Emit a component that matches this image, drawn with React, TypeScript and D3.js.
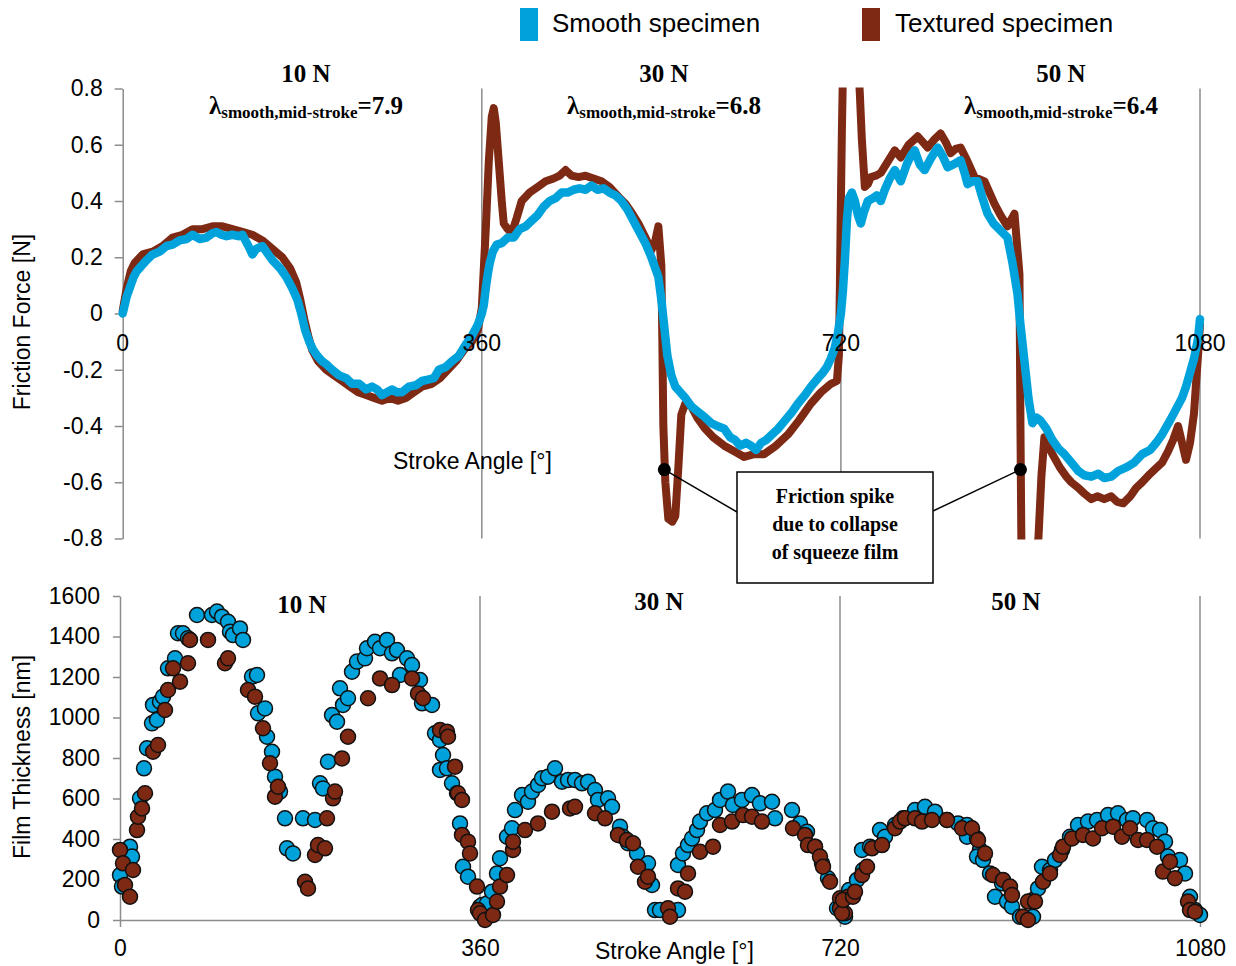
import * as d3 from 'd3';
import React, {useEffect, useRef} from 'react';

// friction force [N] vs stroke angle [deg]
const smoothForce: [number, number][] = [
    [0,0.0],[4,0.06],[7,0.09],[11,0.13],[14,0.15],[19,0.17],[24,0.19],[30,0.21],[37,0.22],[44,0.24],[50,0.245],[57,0.26],[64,0.265],
    [70,0.28],[77,0.265],[84,0.27],[90,0.285],[94,0.29],[99,0.28],[104,0.275],[110,0.28],[116,0.275],[120,0.28],[126,0.24],[130,0.21],
    [134,0.23],[140,0.24],[146,0.21],[150,0.19],[158,0.16],[164,0.13],[170,0.09],[175,0.05],[179,0.0],[183,-0.06],[187,-0.10],
    [191,-0.13],[195,-0.15],[200,-0.17],[204,-0.18],[210,-0.20],[217,-0.22],[224,-0.23],[230,-0.25],[237,-0.25],[244,-0.27],
    [250,-0.26],[255,-0.27],[260,-0.29],[265,-0.28],[270,-0.27],[275,-0.28],[280,-0.28],[287,-0.26],[294,-0.255],[300,-0.24],
    [306,-0.235],[312,-0.23],[317,-0.20],[324,-0.19],[330,-0.17],[337,-0.15],[344,-0.11],[350,-0.08],[356,-0.04],[360,0.0],
    [362,0.03],[364,0.09],[366,0.14],[368,0.18],[371,0.22],[375,0.245],[380,0.25],[386,0.27],[392,0.27],[398,0.30],[404,0.31],
    [410,0.33],[416,0.35],[422,0.38],[428,0.40],[434,0.41],[440,0.43],[446,0.43],[452,0.44],[458,0.445],[464,0.44],[470,0.455],
    [476,0.44],[482,0.445],[488,0.43],[494,0.42],[500,0.40],[506,0.37],[512,0.33],[518,0.29],[524,0.25],[530,0.20],[534,0.16],
    [537,0.13],[540,0.05],[543,-0.05],[546,-0.15],[550,-0.22],[554,-0.26],[559,-0.28],[564,-0.30],[570,-0.33],[577,-0.35],
    [584,-0.37],[590,-0.39],[596,-0.40],[603,-0.41],[609,-0.44],[614,-0.45],[619,-0.47],[625,-0.46],[630,-0.47],[635,-0.485],
    [640,-0.46],[645,-0.45],[651,-0.43],[657,-0.41],[664,-0.38],[671,-0.35],[677,-0.32],[684,-0.29],[690,-0.26],[697,-0.23],
    [702,-0.21],[706,-0.19],[710,-0.16],[714,-0.12],[717,-0.07],[720,0.0],
    [722,0.08],[724,0.19],[726,0.33],[728,0.41],[731,0.43],[734,0.40],[737,0.35],[740,0.32],[743,0.36],[747,0.40],[752,0.41],
    [756,0.42],[760,0.40],[764,0.44],[769,0.48],[774,0.51],[780,0.47],[786,0.53],[790,0.56],[794,0.58],[799,0.53],[804,0.51],
    [810,0.55],[817,0.59],[822,0.56],[827,0.52],[833,0.53],[840,0.545],[844,0.50],[847,0.46],[852,0.47],[857,0.47],[862,0.41],
    [867,0.355],[873,0.32],[880,0.295],[887,0.27],[892,0.18],[897,0.07],[900,-0.04],[904,-0.17],[908,-0.30],[912,-0.39],
    [916,-0.37],[920,-0.38],[926,-0.41],[932,-0.45],[938,-0.48],[944,-0.50],[951,-0.53],[958,-0.56],[964,-0.575],[971,-0.58],
    [978,-0.57],[984,-0.585],[991,-0.58],[998,-0.56],[1007,-0.545],[1014,-0.53],[1022,-0.50],[1030,-0.485],[1036,-0.46],
    [1042,-0.43],[1050,-0.38],[1056,-0.34],[1062,-0.30],[1066,-0.26],[1070,-0.21],[1074,-0.16],[1078,-0.09],[1080,-0.02]
];

const texturedForce: [number, number][] = [
    [0,0.01],[4,0.09],[8,0.15],[12,0.18],[20,0.21],[30,0.22],[40,0.24],[50,0.27],[60,0.28],[70,0.30],[80,0.30],[90,0.31],
    [100,0.31],[110,0.30],[120,0.29],[130,0.28],[140,0.26],[150,0.23],[160,0.20],[168,0.16],[174,0.11],[178,0.05],[182,-0.02],
    [186,-0.08],[190,-0.13],[196,-0.17],[204,-0.20],[212,-0.22],[220,-0.24],[228,-0.26],[236,-0.28],[244,-0.29],[252,-0.30],
    [260,-0.31],[268,-0.30],[276,-0.31],[284,-0.30],[292,-0.28],[300,-0.26],[310,-0.25],[318,-0.23],[326,-0.20],[334,-0.17],
    [342,-0.13],[350,-0.10],[356,-0.06],[360,0.02],
    [364,0.30],[367,0.54],[370,0.70],[372,0.73],[374,0.68],[377,0.54],[380,0.40],[382,0.32],[386,0.30],[390,0.285],[395,0.34],
    [400,0.40],[408,0.43],[416,0.45],[424,0.47],[432,0.48],[438,0.49],[444,0.51],[450,0.49],[457,0.485],[464,0.49],[472,0.48],
    [480,0.47],[488,0.45],[497,0.415],[504,0.39],[510,0.36],[517,0.32],[524,0.27],[530,0.225],[534,0.26],[537,0.31],[540,0.17],
    [541,-0.10],[542,-0.40],[544,-0.60],[547,-0.73],[551,-0.74],[554,-0.72],[557,-0.55],[560,-0.36],[564,-0.32],[570,-0.33],
    [576,-0.37],[584,-0.41],[592,-0.44],[603,-0.47],[613,-0.49],[623,-0.51],[633,-0.50],[643,-0.50],[655,-0.47],[667,-0.43],
    [678,-0.38],[690,-0.32],[700,-0.28],[710,-0.25],[716,-0.24],[718,-0.15],[719,0.10],[720,0.40],[721,0.65],[722,0.85],
    [730,1.10],[737,0.92],[739,0.78],[741,0.62],[744,0.45],[747,0.46],[750,0.485],[755,0.49],[760,0.50],[767,0.54],[774,0.58],
    [780,0.555],[788,0.60],[797,0.63],[802,0.61],[807,0.59],[814,0.62],[820,0.64],[825,0.61],[830,0.57],[835,0.585],[840,0.59],
    [847,0.54],[854,0.485],[864,0.47],[869,0.43],[874,0.39],[880,0.35],[887,0.31],[894,0.355],[899,0.14],[900,-0.40],
    [901,-0.85],[910,-0.92],[918,-0.80],[921,-0.58],[924,-0.44],[928,-0.47],[932,-0.50],[940,-0.55],[946,-0.58],[951,-0.60],
    [958,-0.62],[964,-0.64],[971,-0.66],[977,-0.65],[984,-0.66],[991,-0.65],[997,-0.67],[1003,-0.675],[1010,-0.65],[1016,-0.62],
    [1022,-0.60],[1030,-0.57],[1036,-0.55],[1042,-0.53],[1048,-0.49],[1053,-0.45],[1058,-0.40],[1062,-0.46],[1066,-0.52],
    [1070,-0.46],[1074,-0.355],[1076,-0.25],[1078,-0.15],[1080,-0.04]
];

// film thickness [nm] vs stroke angle [deg]
const smoothFilm: [number, number][] = [
    [0,222],[2,165],[10,362],[12,313],[20,601],[24,749],[27,848],[32,971],[33,1062],[37,988],[40,1078],[43,1103],[48,1243],
    [55,1292],[58,1416],[63,1416],[68,1391],[77,1506],[92,1506],[97,1523],[102,1498],[108,1473],[110,1424],[113,1407],
    [120,1440],[123,1383],[132,1202],[137,1210],[138,1021],[145,1045],[147,905],[152,831],[155,708],[160,634],[165,502],
    [167,354],[173,329],[183,502],[195,494],[200,675],[203,650],[208,782],[212,1012],[217,979],[220,1144],[223,1062],
    [228,1095],[232,1226],[237,1276],[245,1292],[247,1342],[255,1374],[260,1342],[267,1383],[272,1317],[277,1333],[280,1210],
    [287,1292],[292,1259],[300,1185],[302,1070],[312,1062],[315,922],[320,889],[323,815],[320,741],[327,749],[332,675],
    [337,626],[340,477],[343,263],[348,214],
    [360,66],[362,74],[367,82],[372,140],[377,230],[380,305],[387,411],[392,453],[395,543],[402,617],[408,584],[412,634],
    [418,667],[422,700],[428,708],[435,749],[442,683],[448,691],[455,691],[462,675],[468,683],[475,642],[478,593],[488,601],
    [492,559],[500,461],[503,411],[508,379],[517,329],[528,280],[532,173],[535,49],[540,49],[558,49],[558,272],[563,329],
    [568,370],[572,403],[577,444],[580,486],[587,527],[595,543],[600,593],[608,634],[613,568],[622,593],[632,617],[640,576],
    [652,584],[655,502],[672,543],[680,477],[687,436],[695,362],[702,280],[708,206],[717,58],
    [720,58],[725,16],[729,148],[737,198],[743,247],[742,346],[750,362],[760,444],[765,411],[775,469],[783,502],[795,543],
    [805,559],[815,535],[827,494],[838,477],[847,469],[847,411],[857,403],[860,346],[857,313],[863,296],[870,230],[875,115],
    [882,181],[887,91],[892,66],[900,16],[913,16],[913,99],[918,156],[922,263],[930,247],[935,296],[942,346],[950,411],
    [958,469],[968,486],[977,494],[988,518],[998,527],[1007,494],[1013,502],[1027,494],[1033,453],[1040,444],[1045,387],
    [1048,313],[1060,296],[1065,230],[1070,115],[1075,49],[1080,25]
];

const texturedFilm: [number, number][] = [
    [0,346],[3,280],[5,173],[10,115],[13,247],[17,444],[18,510],[22,551],[25,626],[33,831],[38,864],[45,1037],[48,1136],
    [53,1243],[60,1177],[68,1268],[70,1383],[88,1383],[105,1268],[108,1292],[128,1136],[135,1103],[143,947],[150,774],
    [155,609],[158,658],[185,189],[188,156],[195,321],[198,370],[205,354],[207,502],[213,601],[215,634],[222,798],[228,905],
    [248,1095],[260,1193],[272,1160],[292,1193],[298,1119],[303,1095],[320,938],[327,930],[328,905],[335,757],[338,626],
    [342,593],[342,420],[348,387],[350,329],[357,165],
    [358,49],[360,33],[365,0],[373,25],[377,91],[380,165],[387,222],[393,346],[393,387],[405,444],[418,477],[432,535],
    [450,551],[455,559],[475,527],[485,502],[498,420],[507,395],[513,379],[518,263],[525,189],[528,214],[548,58],[550,16],
    [558,156],[565,140],[568,230],[580,337],[593,362],[600,469],[612,486],[623,518],[632,510],[642,486],[673,453],[685,420],
    [688,370],[695,362],[700,313],[703,263],[710,189],[720,107],[720,58],[725,33],[728,115],
    [722,33],[723,99],[733,115],[735,140],[742,222],[747,263],[752,354],[762,370],[775,453],[780,486],[785,502],[795,502],
    [802,486],[812,494],[827,494],[842,453],[852,453],[858,395],[865,329],[873,222],[883,198],[890,165],[892,123],[903,16],
    [908,0],[908,91],[915,91],[923,189],[930,230],[940,321],[943,362],[952,403],[963,420],[973,403],[982,453],[993,461],
    [1002,411],[1010,453],[1018,395],[1027,395],[1037,362],[1043,239],[1050,288],[1055,206],[1068,91],[1070,49],[1075,41]
];

const forceTicks = [-0.8, -0.6, -0.4, -0.2, 0, 0.2, 0.4, 0.6, 0.8];
const filmTicks = [0, 200, 400, 600, 800, 1000, 1200, 1400, 1600];
const angleTicks = [0, 360, 720, 1080];
const loads = ['10 N', '30 N', '50 N'];
const lambdas = ['7.9', '6.8', '6.4'];
const spikeAngles = [543, 900];
const spikeForce = -0.555;

const BLUE = '#00a2db';
const BROWN = '#7e2914';
const GREY = '#8c8c8c';
const SANS = 'Arial, "Liberation Sans", sans-serif';
const SERIF = '"Times New Roman", "Liberation Serif", serif';

export default function App() {
    const ref = useRef<SVGSVGElement>(null);

    useEffect(() => {
        const svg = d3.select(ref.current);
        svg.selectAll('*').remove();

        // ---------- top panel: friction ----------
        const x1 = d3.scaleLinear().domain([0, 1080]).range([122.7, 1200]);
        const y1 = d3.scaleLinear().domain([-0.8, 0.8]).range([538.5, 88.5]);

        const top = svg.append('g');

        top.append('g')
            .attr('transform', `translate(${x1(0)},0)`)
            .call(d3.axisLeft(y1).tickValues(forceTicks).tickSize(8).tickSizeOuter(0).tickPadding(12)
                .tickFormat((d: any) => String(d)))
            .call(g => {
                g.select('.domain').attr('stroke', GREY).attr('stroke-width', 1.5);
                g.selectAll('.tick line').attr('stroke', GREY).attr('stroke-width', 1.5);
                g.selectAll('.tick text').attr('fill', '#000').style('font-family', SANS).style('font-size', '23px');
            });

        top.selectAll('.vgrid')
            .data(angleTicks.slice(1))
          .enter().append('line')
            .attr('x1', d => x1(d)).attr('x2', d => x1(d))
            .attr('y1', y1(0.8)).attr('y2', y1(-0.8))
            .attr('stroke', GREY).attr('stroke-width', 1.5);

        svg.append('clipPath').attr('id', 'clipTop')
          .append('rect')
            .attr('x', x1(0) - 10).attr('y', y1(0.8) - 1)
            .attr('width', x1(1080) - x1(0) + 20).attr('height', y1(-0.8) - y1(0.8) + 2);

        const line = d3.line<[number, number]>().x(d => x1(d[0])).y(d => y1(d[1]));

        const curves = top.append('g').attr('clip-path', 'url(#clipTop)');
        curves.append('path')
            .datum(texturedForce)
            .attr('d', line)
            .attr('fill', 'none').attr('stroke', BROWN).attr('stroke-width', 8)
            .attr('stroke-linejoin', 'round').attr('stroke-linecap', 'round');
        curves.append('path')
            .datum(smoothForce)
            .attr('d', line)
            .attr('fill', 'none').attr('stroke', BLUE).attr('stroke-width', 8.5)
            .attr('stroke-linejoin', 'round').attr('stroke-linecap', 'round');

        // x labels sit on top of the curves
        top.selectAll('.xlab')
            .data(angleTicks)
          .enter().append('text')
            .attr('x', d => x1(d)).attr('y', 351)
            .attr('text-anchor', 'middle')
            .style('font-family', SANS).style('font-size', '23px')
            .text(d => d);

        top.append('text')
            .text('Stroke Angle [°]')
            .attr('x', 393).attr('y', 469)
            .style('font-family', SANS).style('font-size', '23px');

        top.append('text')
            .text('Friction Force [N]')
            .attr('transform', 'translate(30,322) rotate(-90)')
            .attr('text-anchor', 'middle')
            .style('font-family', SANS).style('font-size', '23px');

        // load labels + lambda
        const titleX = [306, 664, 1061];
        loads.forEach((l, i) => {
            top.append('text')
                .text(l)
                .attr('x', titleX[i]).attr('y', 82)
                .attr('text-anchor', 'middle')
                .style('font-family', SERIF).style('font-weight', 'bold').style('font-size', '25px');
            const t = top.append('text')
                .attr('x', titleX[i]).attr('y', 114)
                .attr('text-anchor', 'middle')
                .style('font-family', SERIF).style('font-weight', 'bold').style('font-size', '25px');
            t.append('tspan').text('λ');
            t.append('tspan').text('smooth,mid-stroke').attr('dy', 4).style('font-size', '17px');
            t.append('tspan').text('=' + lambdas[i]).attr('dy', -4);
        });

        // annotation
        const box = {x: 737, y: 472, w: 196, h: 111};
        const ann = top.append('g');
        ann.append('line')
            .attr('x1', x1(spikeAngles[0])).attr('y1', y1(spikeForce))
            .attr('x2', box.x).attr('y2', 512)
            .attr('stroke', '#000').attr('stroke-width', 1.5);
        ann.append('line')
            .attr('x1', x1(spikeAngles[1])).attr('y1', y1(spikeForce))
            .attr('x2', box.x + box.w).attr('y2', 511)
            .attr('stroke', '#000').attr('stroke-width', 1.5);
        ann.selectAll('circle')
            .data(spikeAngles)
          .enter().append('circle')
            .attr('cx', d => x1(d)).attr('cy', y1(spikeForce)).attr('r', 6.5)
            .attr('fill', '#000');
        ann.append('rect')
            .attr('x', box.x).attr('y', box.y).attr('width', box.w).attr('height', box.h)
            .attr('fill', '#fff').attr('stroke', '#000').attr('stroke-width', 1.5);
        ['Friction spike', 'due to collapse', 'of squeeze film'].forEach((s, i) => {
            ann.append('text')
                .text(s)
                .attr('x', box.x + box.w / 2).attr('y', 503 + i * 28)
                .attr('text-anchor', 'middle')
                .style('font-family', SERIF).style('font-weight', 'bold').style('font-size', '20px');
        });

        // legend
        const legend = svg.append('g');
        [[BLUE, 520, 552, 'Smooth specimen'], [BROWN, 862, 895, 'Textured specimen']].forEach((d: any) => {
            legend.append('rect')
                .attr('x', d[1]).attr('y', 8).attr('width', 18).attr('height', 33)
                .attr('fill', d[0]);
            legend.append('text')
                .text(d[3])
                .attr('x', d[2]).attr('y', 32)
                .style('font-family', SANS).style('font-size', '26px');
        });

        // ---------- bottom panel: film thickness ----------
        const x2 = d3.scaleLinear().domain([0, 1080]).range([120, 1200]);
        const y2 = d3.scaleLinear().domain([0, 1600]).range([920, 596]);

        const bot = svg.append('g');

        bot.selectAll('.vgrid')
            .data(angleTicks.slice(1))
          .enter().append('line')
            .attr('x1', d => x2(d)).attr('x2', d => x2(d))
            .attr('y1', y2(1600)).attr('y2', y2(0))
            .attr('stroke', GREY).attr('stroke-width', 1.5);

        bot.append('g')
            .attr('transform', `translate(${x2(0)},0)`)
            .call(d3.axisLeft(y2).tickValues(filmTicks).tickSize(7).tickSizeOuter(0).tickPadding(13)
                .tickFormat((d: any) => String(d)))
            .call(g => {
                g.select('.domain').attr('stroke', GREY).attr('stroke-width', 1.5);
                g.selectAll('.tick line').attr('stroke', GREY).attr('stroke-width', 1.5);
                g.selectAll('.tick text').attr('fill', '#000').style('font-family', SANS).style('font-size', '23px');
            });

        bot.append('g')
            .attr('transform', `translate(0,${y2(0)})`)
            .call(d3.axisBottom(x2).tickValues(angleTicks).tickSize(7).tickSizeOuter(0).tickPadding(13)
                .tickFormat((d: any) => String(d)))
            .call(g => {
                g.select('.domain').attr('stroke', GREY).attr('stroke-width', 1.5);
                g.selectAll('.tick line').attr('stroke', GREY).attr('stroke-width', 1.5);
                g.selectAll('.tick text').attr('fill', '#000').style('font-family', SANS).style('font-size', '23px');
            });

        bot.append('text')
            .text('Stroke Angle [°]')
            .attr('x', 595).attr('y', 959)
            .style('font-family', SANS).style('font-size', '23px');

        bot.append('text')
            .text('Film Thickness [nm]')
            .attr('transform', 'translate(30,757) rotate(-90)')
            .attr('text-anchor', 'middle')
            .style('font-family', SANS).style('font-size', '23px');

        const botTitle = [[302, 613], [659, 610], [1016, 610]];
        loads.forEach((l, i) => {
            bot.append('text')
                .text(l)
                .attr('x', botTitle[i][0]).attr('y', botTitle[i][1])
                .attr('text-anchor', 'middle')
                .style('font-family', SERIF).style('font-weight', 'bold').style('font-size', '25px');
        });

        const dots = bot.append('g');
        dots.selectAll('.smooth')
            .data(smoothFilm)
          .enter().append('circle')
            .attr('cx', d => x2(d[0])).attr('cy', d => y2(d[1])).attr('r', 7.5)
            .attr('fill', BLUE).attr('stroke', '#111').attr('stroke-width', 1.5);
        dots.selectAll('.textured')
            .data(texturedFilm)
          .enter().append('circle')
            .attr('cx', d => x2(d[0])).attr('cy', d => y2(d[1])).attr('r', 7.5)
            .attr('fill', BROWN).attr('stroke', '#111').attr('stroke-width', 1.5);
    }, []);

    return (
        <svg ref={ref} width={1236} height={966}
             style={{position: 'absolute', left: 0, top: 0, background: '#fff'}} />
    );
}
